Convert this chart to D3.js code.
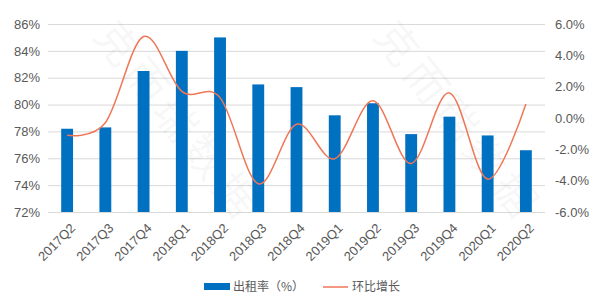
<!DOCTYPE html>
<html>
<head>
<meta charset="utf-8">
<script src="https://cdn.jsdelivr.net/npm/d3@7"></script>
<style>
    body { margin: 0; background: #fff; }
    svg { display: block; font-family: "Noto Sans CJK SC", "Noto Sans", sans-serif; }
</style>
</head>
<body>
<svg id="chart" width="600" height="304"></svg>
<script>
const quarters = ["2017Q2", "2017Q3", "2017Q4", "2018Q1", "2018Q2", "2018Q3", "2018Q4",
    "2019Q1", "2019Q2", "2019Q3", "2019Q4", "2020Q1", "2020Q2"];
const occupancy = [78.2, 78.3, 82.5, 84.0, 85.0, 81.5, 81.3, 79.2, 80.1, 77.8, 79.1, 77.7, 76.6];
const qoqGrowth = [-1.1, -0.3, 5.2, 1.7, 1.3, -4.2, -0.4, -2.6, 1.1, -2.9, 1.6, -3.9, 0.9];
const leftTicks = [72, 74, 76, 78, 80, 82, 84, 86];
const rightTicks = [-6, -4, -2, 0, 2, 4, 6];

const svg = d3.select("#chart");
const margin = { top: 24, right: 55, bottom: 92, left: 48 };
const width = 600, height = 304;
const plotBottom = height - margin.bottom;

const x = d3.scaleBand()
    .domain(quarters)
    .range([margin.left, width - margin.right])
    .paddingInner(0.69)
    .paddingOuter(0.345);

const yLeft = d3.scaleLinear().domain([72, 86]).range([plotBottom, margin.top]);
const yRight = d3.scaleLinear().domain([-6, 6]).range([plotBottom, margin.top]);

// gridlines
svg.append("g")
    .selectAll("line")
    .data(leftTicks)
    .join("line")
    .attr("x1", margin.left)
    .attr("x2", width - margin.right)
    .attr("y1", d => yLeft(d) + 0.5)
    .attr("y2", d => yLeft(d) + 0.5)
    .attr("stroke", "#d9d9d9")
    .attr("stroke-width", 1);

// watermark
const marks = [[92, 36], [372, 36]];
svg.append("g")
    .selectAll("text")
    .data(marks)
    .join("text")
    .attr("transform", d => `translate(${d[0]},${d[1]}) rotate(52)`)
    .attr("font-size", 42)
    .attr("fill", "#000")
    .attr("fill-opacity", 0.05)
    .attr("letter-spacing", 6)
    .text("克而瑞数据");

// bars
svg.append("g")
    .selectAll("rect")
    .data(occupancy)
    .join("rect")
    .attr("x", (d, i) => x(quarters[i]))
    .attr("y", d => yLeft(d))
    .attr("width", x.bandwidth())
    .attr("height", d => plotBottom - yLeft(d))
    .attr("fill", "#0070c0");

// growth line
const line = d3.line()
    .x((d, i) => x(quarters[i]) + x.bandwidth() / 2)
    .y(d => yRight(d))
    .curve(d3.curveCatmullRom.alpha(0));

svg.append("path")
    .datum(qoqGrowth)
    .attr("d", line)
    .attr("fill", "none")
    .attr("stroke", "#ef7758")
    .attr("stroke-width", 1.5);

// left axis
const axisColor = "#595959";
svg.append("g")
    .attr("transform", `translate(${margin.left},0)`)
    .call(d3.axisLeft(yLeft).tickValues(leftTicks).tickFormat(d => d + "%").tickSize(0).tickPadding(8))
    .call(g => g.select(".domain").remove())
    .call(g => g.selectAll("text").attr("fill", axisColor).attr("font-size", 13).attr("font-family", null));

// right axis
svg.append("g")
    .attr("transform", `translate(${width - margin.right},0)`)
    .call(d3.axisRight(yRight).tickValues(rightTicks).tickFormat(d => d.toFixed(1) + "%").tickSize(0).tickPadding(10))
    .call(g => g.select(".domain").remove())
    .call(g => g.selectAll("text").attr("fill", axisColor).attr("font-size", 13).attr("font-family", null));

// x axis labels
svg.append("g")
    .attr("transform", `translate(0,${plotBottom})`)
    .call(d3.axisBottom(x).tickSize(0).tickPadding(0))
    .call(g => g.select(".domain").remove())
    .call(g => g.selectAll("text")
        .attr("fill", axisColor)
        .attr("font-size", 13)
        .attr("font-family", null)
        .attr("text-anchor", "end")
        .attr("dy", null)
        .attr("y", 0)
        .attr("transform", "translate(9,17) rotate(-45)"));

// legend
const legend = svg.append("g").attr("font-size", 12).attr("fill", axisColor);
legend.append("rect")
    .attr("x", 204).attr("y", 283).attr("width", 26).attr("height", 7)
    .attr("fill", "#0070c0");
legend.append("text")
    .attr("x", 233).attr("y", 291)
    .attr("fill", axisColor)
    .text("出租率（%）");
legend.append("line")
    .attr("x1", 323).attr("x2", 348).attr("y1", 287).attr("y2", 287)
    .attr("stroke", "#ef7758").attr("stroke-width", 1.5);
legend.append("text")
    .attr("x", 352).attr("y", 291)
    .attr("fill", axisColor)
    .text("环比增长");
</script>
</body>
</html>
